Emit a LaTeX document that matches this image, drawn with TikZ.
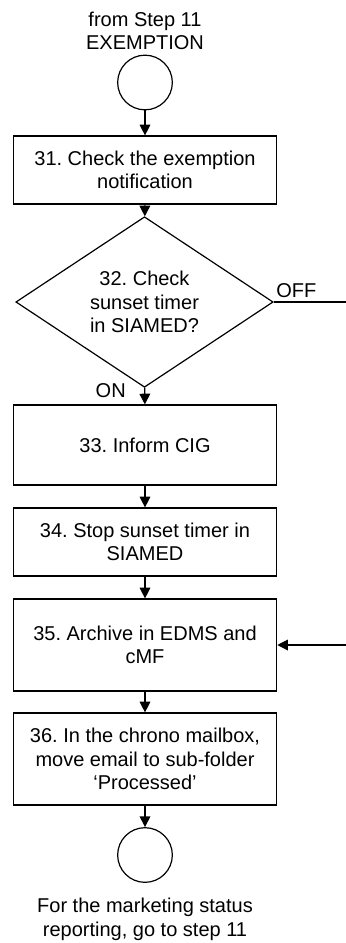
\documentclass[tikz,border=0pt]{standalone}
\usepackage{fontspec}
\setmainfont{Liberation Sans}
\usetikzlibrary{shapes.geometric,arrows.meta}
\frenchspacing
\begin{document}
\begin{tikzpicture}[x=0.75pt,y=-0.75pt,
  every node/.style={font=\fontsize{15}{17.6}\selectfont},
  stepbox/.style={draw,line width=0.9pt,rectangle,minimum width=197.5pt,align=center,inner sep=0pt},
  decision/.style={draw,line width=0.9pt,diamond,minimum width=193pt,minimum height=110pt,inner sep=0pt,align=center},
  connector/.style={draw,line width=0.9pt,circle,minimum size=41pt,inner sep=0pt},
  label/.style={align=center,inner sep=0pt},
  flow/.style={line width=0.9pt,-{Triangle[length=8pt,width=8pt]}},
  plain/.style={line width=0.9pt}]
\useasboundingbox (0,0) rectangle (346,943);
\node[label] (toplbl) at (145,31) {from Step 11\\EXEMPTION};
\node[connector] (c1) at (145,82.5) {};
\node[stepbox,minimum height=51pt] (s31) at (145,170) {31. Check the exemption\\notification};
\node[decision] (d32) at (144.5,302) {32. Check\\sunset timer\\in SIAMED?};
\node[stepbox,minimum height=60pt] (s33) at (145,445) {33. Inform CIG};
\node[stepbox,minimum height=51pt] (s34) at (145,542) {34. Stop sunset timer in\\SIAMED};
\node[stepbox,minimum height=69pt] (s35) at (145,645) {35. Archive in EDMS and\\cMF};
\node[stepbox,minimum height=69pt] (s36) at (145,759) {36. In the chrono mailbox,\\move email to sub-folder\\`Processed'};
\node[connector] (c2) at (145,855) {};
\node[label] (botlbl) at (145,919.5) {For the marketing status\\reporting, go to step 11};
\node[anchor=base west,inner sep=0pt] (off) at (276,297) {OFF};
\node[anchor=base east,inner sep=0pt] (on) at (126,397) {ON};
\coordinate (offend) at (346,302);
\coordinate (instart) at (346,645);
\draw[flow] (c1) -- (s31);
\draw[flow] (s31) -- (d32);
\draw[flow] (d32) -- (s33);
\draw[flow] (s33) -- (s34);
\draw[flow] (s34) -- (s35);
\draw[flow] (s35) -- (s36);
\draw[flow] (s36) -- (c2);
\draw[plain] (d32.east) -- (offend);
\draw[flow] (instart) -- (s35.east);
\end{tikzpicture}
\end{document}
